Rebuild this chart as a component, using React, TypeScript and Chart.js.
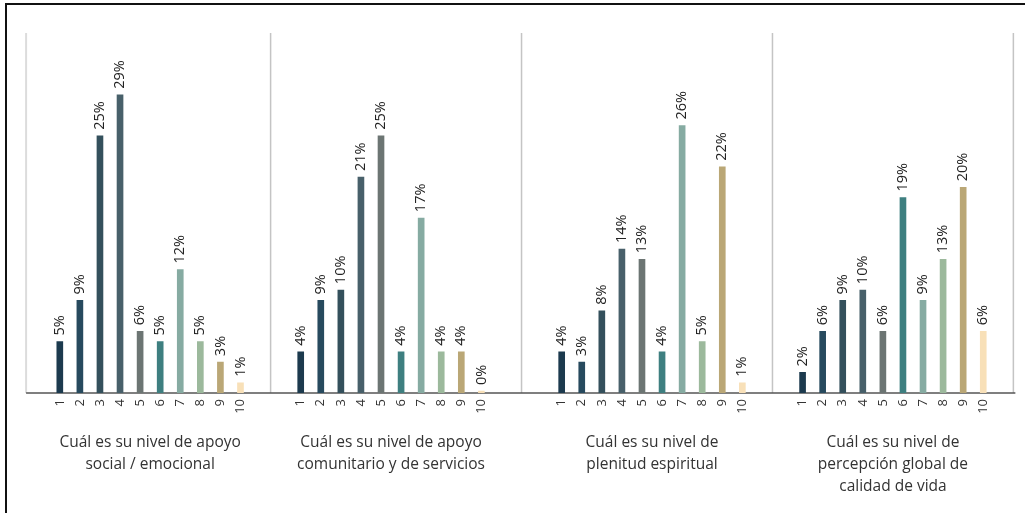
import React, { useEffect, useRef } from 'react';
import { Chart, registerables } from 'chart.js';

Chart.register(...registerables);

// ---- data ----
const levels = ['1', '2', '3', '4', '5', '6', '7', '8', '9', '10'];
const apoyoSocial = [5, 9, 25, 29, 6, 5, 12, 5, 3, 1];
const apoyoComunitario = [4, 9, 10, 21, 25, 4, 17, 4, 4, 0];
const plenitudEspiritual = [4, 3, 8, 14, 13, 4, 26, 5, 22, 1];
const calidadVida = [2, 6, 9, 10, 6, 19, 9, 13, 20, 6];
const groupTitles = [
  ['Cuál es su nivel de apoyo', 'social / emocional'],
  ['Cuál es su nivel de apoyo', 'comunitario y de servicios'],
  ['Cuál es su nivel de', 'plenitud espiritual'],
  ['Cuál es su nivel de', 'percepción global de', 'calidad de vida'],
];
const levelColors = [
  '#1c3a4e', '#274a5e', '#34505c', '#48606a', '#6c7573',
  '#3e7f80', '#86aba2', '#9cb99c', '#baa776', '#f8e0b8',
];

// ---- layout helpers (empty slots before each group, and after the last) ----
const groups = [apoyoSocial, apoyoComunitario, plenitudEspiritual, calidadVida];
const gapsBefore = [1, 2, 3, 2];
const gapAfter = 1;

const labels: string[] = [];
const values: (number | null)[] = [];
const colors: string[] = [];
const groupIdx: number[][] = [];
groups.forEach((g, gi) => {
  for (let i = 0; i < gapsBefore[gi]; i++) {
    labels.push('');
    values.push(null);
    colors.push('transparent');
  }
  const idx: number[] = [];
  g.forEach((v, li) => {
    idx.push(labels.length);
    labels.push(levels[li]);
    values.push(v);
    colors.push(levelColors[li]);
  });
  groupIdx.push(idx);
});
for (let i = 0; i < gapAfter; i++) {
  labels.push('');
  values.push(null);
  colors.push('transparent');
}

const FONT = '"Open Sans", "Noto Sans", sans-serif';

const decor = {
  id: 'decor',
  beforeDatasetsDraw(chart: any) {
    const { ctx, chartArea, scales } = chart;
    const xs = scales.x;
    const seps: number[] = [];
    seps.push(groupIdx[0][0] - 1.68);
    for (let g = 1; g < groupIdx.length; g++) {
      const a = groupIdx[g - 1][groupIdx[g - 1].length - 1];
      const b = groupIdx[g][0];
      seps.push((a + b) / 2);
    }
    seps.push(labels.length - 0.5);
    ctx.save();
    seps.forEach((s, i) => {
      const x = xs.getPixelForValue(s);
      ctx.strokeStyle = i === 0 ? '#dcdcdc' : '#c4c4c4';
      ctx.lineWidth = i === 0 ? 2 : 1.5;
      ctx.beginPath();
      ctx.moveTo(x, chartArea.top);
      ctx.lineTo(x, chartArea.bottom);
      ctx.stroke();
    });
    const x0 = xs.getPixelForValue(seps[0]);
    const x1 = xs.getPixelForValue(seps[seps.length - 1]);
    ctx.strokeStyle = '#555';
    ctx.lineWidth = 1.5;
    ctx.beginPath();
    ctx.moveTo(x0, chartArea.bottom);
    ctx.lineTo(x1 + 2, chartArea.bottom);
    ctx.stroke();
    ctx.restore();
  },
  afterDatasetsDraw(chart: any) {
    const { ctx, chartArea, scales } = chart;
    const meta = chart.getDatasetMeta(0);
    ctx.save();
    ctx.fillStyle = '#222';
    ctx.font = `14.5px ${FONT}`;
    ctx.textAlign = 'left';
    ctx.textBaseline = 'middle';
    meta.data.forEach((bar: any, i: number) => {
      const v = values[i];
      if (v === null) return;
      ctx.save();
      ctx.translate(bar.x, bar.y - 6);
      ctx.rotate(-Math.PI / 2);
      ctx.fillText(`${v}%`, 0, 0);
      ctx.restore();
    });
    ctx.fillStyle = '#333';
    ctx.font = `15.5px ${FONT}`;
    ctx.textAlign = 'center';
    ctx.textBaseline = 'middle';
    groupIdx.forEach((idx, g) => {
      const cx =
        (scales.x.getPixelForValue(idx[0]) + scales.x.getPixelForValue(idx[idx.length - 1])) / 2;
      groupTitles[g].forEach((line, li) => {
        ctx.fillText(line, cx, chartArea.bottom + 50 + li * 22);
      });
    });
    ctx.restore();
  },
};

export default function App() {
  const ref = useRef<HTMLCanvasElement>(null);
  useEffect(() => {
    const chart = new Chart(ref.current as HTMLCanvasElement, {
      type: 'bar',
      data: {
        labels,
        datasets: [
          {
            data: values as any,
            backgroundColor: colors,
            barThickness: 6,
            minBarLength: 2,
          },
        ],
      },
      options: {
        animation: false,
        responsive: true,
        maintainAspectRatio: false,
        layout: { padding: { left: 29.7, right: 6.8, top: 33, bottom: 0 } },
        plugins: { legend: { display: false }, tooltip: { enabled: false } },
        scales: {
          x: {
            type: 'category',
            offset: true,
            grid: { display: false, drawTicks: false },
            border: { display: false },
            ticks: {
              autoSkip: false,
              minRotation: 90,
              maxRotation: 90,
              padding: 6,
              color: '#333',
              font: { family: FONT, size: 13 },
            },
            afterFit: (s: any) => {
              s.height = 120;
            },
          },
          y: { display: false, min: 0, max: 35 },
        },
      },
      plugins: [decor],
    });
    return () => chart.destroy();
  }, []);
  return (
    <div style={{ position: 'fixed', left: 0, top: 0, width: 1025, height: 513, background: '#fff' }}>
      <div
        style={{
          position: 'absolute',
          left: 5,
          top: 3,
          right: 0,
          bottom: 0,
          borderTop: '2px solid #111',
          borderLeft: '2px solid #111',
        }}
      />
      <div style={{ position: 'absolute', left: 0, top: 0, width: 1025, height: 513 }}>
        <canvas ref={ref} />
      </div>
    </div>
  );
}
